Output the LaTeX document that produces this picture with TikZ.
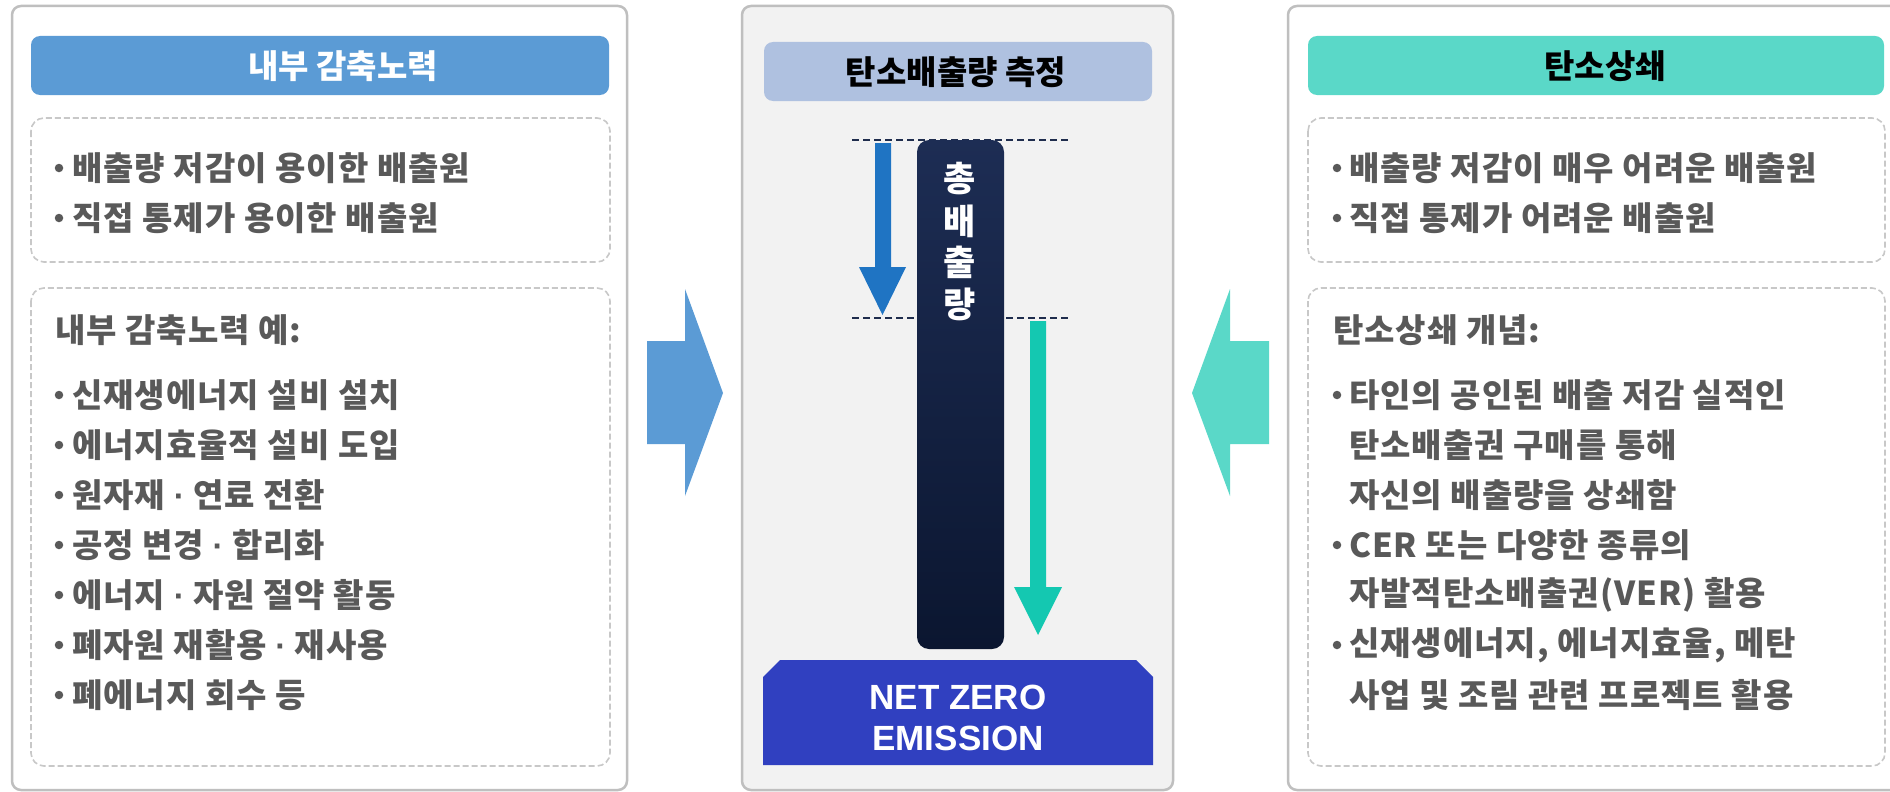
\documentclass[tikz,border=0pt]{standalone}
\usepackage{fontspec}
\newfontfamily\kr{Noto Sans CJK KR}
\newfontfamily\krs{Noto Sans CJK KR}[LetterSpace=3]
\newfontfamily\lib{Liberation Sans}
\definecolor{panelgray}{HTML}{BFBFBF}
\definecolor{dashgray}{HTML}{C8C8C8}
\definecolor{txtgray}{HTML}{595959}
\definecolor{lblue}{HTML}{5B9BD5}
\definecolor{cblue}{HTML}{AFC1E0}
\definecolor{lteal}{HTML}{5AD8C8}
\definecolor{navytop}{HTML}{1D2D54}
\definecolor{navybot}{HTML}{0B1630}
\definecolor{arrblue}{HTML}{1F74C3}
\definecolor{arrteal}{HTML}{14C8B1}
\definecolor{nzblue}{HTML}{3040C0}
\definecolor{dashnavy}{HTML}{1F2D4D}
\definecolor{centerbg}{HTML}{F2F2F2}
\newcommand{\md}{{\lib\bfseries ·}}
\tikzset{
  panel/.style={draw=panelgray, line width=2.5pt, rounded corners=9pt},
  hdr/.style={rounded corners=9pt},
  dbox/.style={draw=dashgray, line width=1.6pt, dash pattern=on 6pt off 3pt, rounded corners=13pt},
  body/.style={font=\krs\bfseries\fontsize{33}{36}\selectfont, text=txtgray, anchor=west, inner sep=0pt},
  hdrtext/.style={font=\kr\bfseries\fontsize{33}{36}\selectfont, inner sep=0pt},
  bulletdot/.style={circle, fill=txtgray, inner sep=0pt, minimum size=8.5pt},
  vtext/.style={font=\kr\bfseries\fontsize{35}{36}\selectfont, text=white, inner sep=0pt},
  nztext/.style={font=\lib\bfseries\fontsize{35}{41}\selectfont, text=white, align=center, inner sep=0pt},
  guide/.style={draw=dashnavy, line width=2.5pt, dash pattern=on 7pt off 4pt},
}
\begin{document}
\begin{tikzpicture}[x=1pt,y=-1pt]
\useasboundingbox (0,0) rectangle (1890,792);
\clip (0,0) rectangle (1890,792);
\fill[white] (0,0) rectangle (1890,792);

% ---------- outer panels ----------
\draw[panel, fill=white] (12,6) rectangle (627,790);
\draw[panel, fill=centerbg] (742,6) rectangle (1173,790);
\draw[panel, fill=white] (1288,6) rectangle (1910,790);

% ---------- headers ----------
\fill[hdr, lblue] (31,36) rectangle (609,95);
\node[hdrtext, text=white] (hL) at (343,66) {내부 감축노력};
\fill[hdr, cblue] (764,42) rectangle (1152,101);
\node[hdrtext, text=black] (hC) at (956,72) {탄소배출량 측정};
\fill[hdr, lteal] (1308,36) rectangle (1884,95);
\node[hdrtext, text=black] (hR) at (1605,66) {탄소상쇄};

% ---------- dashed boxes ----------
\draw[dbox] (31,118) rectangle (610,262);
\draw[dbox] (31,288) rectangle (610,766);
\draw[dbox] (1308,118) rectangle (1885,262);
\draw[dbox] (1308,288) rectangle (1885,766);

% ---------- left texts ----------
\node[bulletdot] (lb1) at (59,168) {};
\node[body] (lt1) at (72,168) {배출량 저감이 용이한 배출원};
\node[bulletdot] (lb2) at (59,218) {};
\node[body] (lt2) at (72,218) {직접 통제가 용이한 배출원};
\node[body] (lh) at (55,330) {내부 감축노력 예:};
\foreach \y/\t [count=\i] in {395/신재생에너지 설비 설치,445/에너지효율적 설비 도입,495/원자재 \md{} 연료 전환,545/공정 변경 \md{} 합리화,595/에너지 \md{} 자원 절약 활동,645/폐자원 재활용 \md{} 재사용,695/폐에너지 회수 등}{
  \node[bulletdot] (lbb\i) at (59,\y) {};
  \node[body] (ltt\i) at (72,\y) {\t};
}

% ---------- right texts ----------
\node[bulletdot] (rb1) at (1337,168) {};
\node[body] (rt1) at (1349,168) {배출량 저감이 매우 어려운 배출원};
\node[bulletdot] (rb2) at (1337,218) {};
\node[body] (rt2) at (1349,218) {직접 통제가 어려운 배출원};
\node[body] (rh) at (1333,330) {탄소상쇄 개념:};
\node[bulletdot] (rbb1) at (1337,395) {};
\node[body] (rtt1) at (1349,395) {타인의 공인된 배출 저감 실적인};
\node[body] (rtt2) at (1349,445) {탄소배출권 구매를 통해};
\node[body] (rtt3) at (1349,495) {자신의 배출량을 상쇄함};
\node[bulletdot] (rbb2) at (1337,545) {};
\node[body] (rtt4) at (1349,545) {CER 또는 다양한 종류의};
\node[body] (rtt5) at (1349,595) {자발적탄소배출권(VER) 활용};
\node[bulletdot] (rbb3) at (1337,645) {};
\node[body] (rtt6) at (1349,645) {신재생에너지, 에너지효율, 메탄};
\node[body] (rtt7) at (1349,695) {사업 및 조림 관련 프로젝트 활용};

% ---------- big side arrows ----------
\fill[lblue] (647,341) -- (685,341) -- (685,289) -- (723,393) -- (685,496) -- (685,444) -- (647,444) -- cycle;
\fill[lteal] (1269,341) -- (1230,341) -- (1230,289) -- (1192,393) -- (1230,496) -- (1230,444) -- (1269,444) -- cycle;

% ---------- center ----------
\coordinate (g1a) at (852,140); \coordinate (g1b) at (1068,140);
\coordinate (g2a) at (852,318); \coordinate (g2b) at (1068,318);
\draw[guide] (g1a) -- (g1b);
\draw[guide] (g2a) -- (g2b);
\shade[rounded corners=12pt, top color=navytop, bottom color=navybot] (917,140) rectangle (1004,649);
\node[vtext] (v1) at (960,179) {총};
\node[vtext] (v2) at (960,221) {배};
\node[vtext] (v3) at (960,262) {출};
\node[vtext] (v4) at (960,304) {량};

% blue arrow
\fill[arrblue] (875,143) -- (891,143) -- (891,267) -- (906,267) -- (882.5,315) -- (859,267) -- (875,267) -- cycle;
% teal arrow
\fill[arrteal] (1030,321) -- (1046,321) -- (1046,587) -- (1062,587) -- (1038,635) -- (1014,587) -- (1030,587) -- cycle;

% net zero box
\fill[nzblue] (780,660) -- (1136,660) -- (1153,677) -- (1153,765) -- (763,765) -- (763,677) -- cycle;
\node[nztext] (nz) at (958,718) {NET ZERO\\EMISSION};
\end{tikzpicture}
\end{document}
